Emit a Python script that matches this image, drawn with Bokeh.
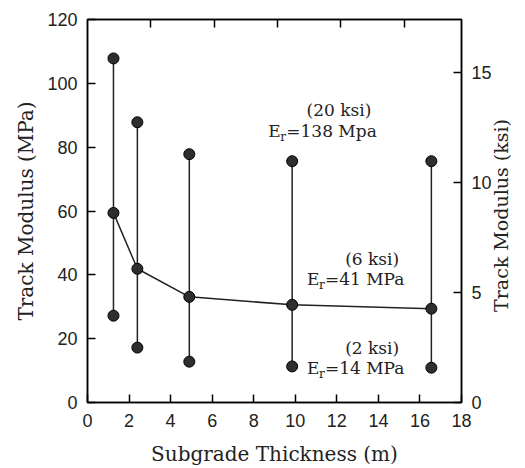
import math
from bokeh.plotting import figure
from bokeh.models import Range1d, LinearAxis, FixedTicker, ColumnDataSource
from bokeh.core.properties import value
from bokeh.embed import file_html
from bokeh.resources import INLINE

# ---- data ----
thickness_m = [1.25, 2.4, 4.9, 9.85, 16.55]
modulus_er138 = [107.8, 87.8, 77.8, 75.6, 75.6]
modulus_er41 = [59.4, 41.9, 33.1, 30.6, 29.4]
modulus_er14 = [27.2, 17.2, 12.8, 11.3, 10.9]

x_ticks = [0, 2, 4, 6, 8, 10, 12, 14, 16, 18]
y_ticks_mpa = [0, 20, 40, 60, 80, 100, 120]
y_ticks_ksi = [0, 5, 10, 15]
top_ticks_ft = [10, 20, 30, 40, 50]
MPA_PER_KSI = 6.895
M_PER_FT = 0.3048

note_head = ["(20 ksi)", "(6 ksi)", "(2 ksi)"]
note_head_x = [12.1, 13.7, 13.7]
note_head_y = [91.6, 45.0, 17.2]
note_er = ["=138 Mpa", "=41 MPa", "=14 MPa"]
note_er_x = [8.7, 10.56, 10.56]
note_er_y = [85.0, 38.75, 10.8]

SERIF = "DejaVu Serif"
SANS = "Liberation Sans"
NBSP = "\u00a0"

p = figure(width=525, height=468,
           x_range=Range1d(0, 18), y_range=Range1d(0, 120),
           output_backend="svg", toolbar_location=None,
           min_border_left=87, min_border_right=63,
           min_border_top=19, min_border_bottom=65)
p.xgrid.visible = False
p.ygrid.visible = False
p.outline_line_color = "black"
p.outline_line_width = 1.5
p.background_fill_color = "white"
p.border_fill_color = "white"

src = ColumnDataSource(dict(x=thickness_m, hi=modulus_er138, mid=modulus_er41, lo=modulus_er14))

p.segment(x0="x", y0="lo", x1="x", y1="hi", source=src, line_color="#222222", line_width=1.5)
p.line(x="x", y="mid", source=src, line_color="#222222", line_width=1.5)
for col in ["hi", "mid", "lo"]:
    p.scatter(x="x", y=col, source=src, size=11, fill_color="#2e2e2e",
              line_color="black", line_width=1)

def style_axis(ax, ticks):
    ax.ticker = FixedTicker(ticks=ticks)
    ax.minor_tick_line_color = None
    ax.major_tick_in = 8
    ax.major_tick_out = 0
    ax.major_tick_line_color = "black"
    ax.major_tick_line_width = 1.5
    ax.axis_line_color = "black"
    ax.axis_line_width = 1.5
    ax.major_label_text_font = SANS
    ax.major_label_text_font_size = "18px"
    ax.major_label_text_color = "#222222"
    ax.axis_label_text_font = SERIF
    ax.axis_label_text_font_size = "20px"
    ax.axis_label_text_font_style = "normal"
    ax.axis_label_text_color = "#222222"

xa = p.xaxis[0]
style_axis(xa, x_ticks)
xa.axis_label = "Subgrade Thickness (m)"
xa.major_label_standoff = 11
xa.axis_label_standoff = 12

ya = p.yaxis[0]
style_axis(ya, y_ticks_mpa)
ya.axis_label = "Track Modulus (MPa)"
ya.major_label_standoff = 10
ya.axis_label_standoff = 6

p.extra_y_ranges = {"ksi": Range1d(0, 120 / MPA_PER_KSI)}
ra = LinearAxis(y_range_name="ksi")
style_axis(ra, y_ticks_ksi)
ra.major_label_standoff = 10
ra.axis_label_text_font_size = "19px"
ra.axis_label_standoff = 6
try:
    ra.axis_label_orientation = math.pi / 2
    ra.axis_label_align = "start"
    ra.axis_label = NBSP * 15 + "Track Modulus (ksi)"
except Exception:
    ra.axis_label = "Track Modulus (ksi)"
p.add_layout(ra, "right")

ta = LinearAxis()
style_axis(ta, [f * M_PER_FT for f in top_ticks_ft])
ta.major_label_text_font_size = "1px"
ta.major_label_text_color = None
ta.major_label_standoff = 0
p.add_layout(ta, "above")

# annotations
hsrc = ColumnDataSource(dict(x=note_head_x, y=note_head_y, t=note_head))
p.text(x="x", y="y", text="t", source=hsrc, text_font=value(SERIF), text_font_size="17px",
       text_align="center", text_baseline="middle", text_color="#222222")
esrc = ColumnDataSource(dict(x=note_er_x, y=note_er_y, t=note_er, e=["E"] * 3, r=["r"] * 3))
p.text(x="x", y="y", text="e", source=esrc, text_font=value(SERIF), text_font_size="17px",
       text_align="left", text_baseline="middle", text_color="#222222")
p.text(x="x", y="y", text="r", source=esrc, text_font=value(SERIF), text_font_size="12px",
       text_align="left", text_baseline="middle", text_color="#222222", x_offset=12, y_offset=6)
p.text(x="x", y="y", text="t", source=esrc, text_font=value(SERIF), text_font_size="17px",
       text_align="left", text_baseline="middle", text_color="#222222", x_offset=18)

open("out.html", "w").write(file_html(p, INLINE))
